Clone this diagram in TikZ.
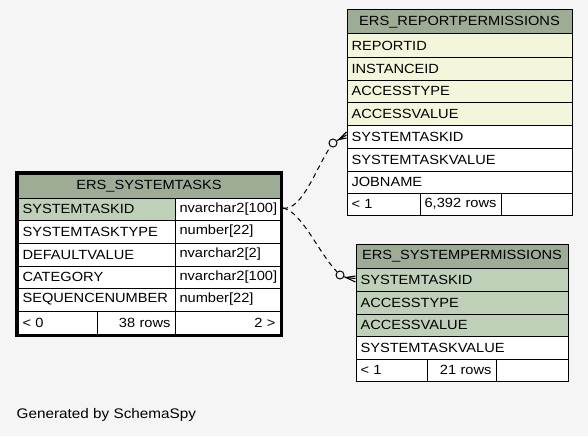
\documentclass[tikz,border=0pt]{standalone}
\usepackage{fontspec}
\setmainfont[FakeStretch=1.1]{Liberation Sans}
\definecolor{bgc}{HTML}{F5F5F5}
\definecolor{headc}{HTML}{9EAC96}
\definecolor{pkc}{HTML}{BFD0B8}
\definecolor{idxc}{HTML}{F4F6DC}
\tikzset{
  cellbox/.style={draw=black, line width=1pt, inner xsep=4.5pt, inner ysep=0pt,
    font=\fontsize{13.3}{15}\selectfont, anchor=center},
  fk/.style={draw=black, line width=1pt, dash pattern=on 5pt off 4pt},
  crow/.style={draw=black, line width=1.1pt},
  odot/.style={circle, draw=black, line width=1pt, fill=bgc, minimum size=8pt, inner sep=0pt},
  focus/.style={draw=black, line width=3pt}
}
\newcommand{\tcell}[8]{%
  \pgfmathsetmacro{\cellw}{#4-#2}%
  \pgfmathsetmacro{\cellh}{#5-#3}%
  \pgfmathsetmacro{\celltw}{#4-#2-9}%
  \node[cellbox, fill=#6, minimum width=\cellw pt, minimum height=\cellh pt,
        text width=\celltw pt, align=#7] (#1) at ({(#2+#4)/2},{(#3+#5)/2}) {#8};}
\begin{document}
\begin{tikzpicture}[x=1pt,y=-1pt]
\fill[bgc] (0,0) rectangle (588,436);
\useasboundingbox (0,0) rectangle (588,436);

% ERS_SYSTEMTASKS
\tcell{st-h}{18}{174}{280}{198}{headc}{center}{ERS\_SYSTEMTASKS}
\tcell{st-n1}{18}{198}{175}{220}{pkc}{left}{SYSTEMTASKID}
\tcell{st-t1}{175}{198}{280}{220}{white}{left}{nvarchar2[100]}
\tcell{st-n2}{18}{220}{175}{243}{white}{left}{SYSTEMTASKTYPE}
\tcell{st-t2}{175}{220}{280}{243}{white}{left}{number[22]}
\tcell{st-n3}{18}{243}{175}{266}{white}{left}{DEFAULTVALUE}
\tcell{st-t3}{175}{243}{280}{266}{white}{left}{nvarchar2[2]}
\tcell{st-n4}{18}{266}{175}{288}{white}{left}{CATEGORY}
\tcell{st-t4}{175}{266}{280}{288}{white}{left}{nvarchar2[100]}
\tcell{st-n5}{18}{288}{175}{311}{white}{left}{SEQUENCENUMBER}
\tcell{st-t5}{175}{288}{280}{311}{white}{left}{number[22]}
\tcell{st-f1}{18}{311}{97}{334}{white}{left}{< 0}
\tcell{st-f2}{97}{311}{175}{334}{white}{right}{38 rows}
\tcell{st-f3}{175}{311}{280}{334}{white}{right}{2 >}
\draw[focus] (16.5,172.5) rectangle (281.5,335.5);

% ERS_REPORTPERMISSIONS
\tcell{rp-h}{347}{10}{572}{34}{headc}{center}{ERS\_REPORTPERMISSIONS}
\tcell{rp-1}{347}{34}{572}{57}{idxc}{left}{REPORTID}
\tcell{rp-2}{347}{57}{572}{80}{idxc}{left}{INSTANCEID}
\tcell{rp-3}{347}{80}{572}{102}{idxc}{left}{ACCESSTYPE}
\tcell{rp-4}{347}{102}{572}{125}{idxc}{left}{ACCESSVALUE}
\tcell{rp-5}{347}{125}{572}{148}{white}{left}{SYSTEMTASKID}
\tcell{rp-6}{347}{148}{572}{171}{white}{left}{SYSTEMTASKVALUE}
\tcell{rp-7}{347}{171}{572}{193}{white}{left}{JOBNAME}
\tcell{rp-f1}{347}{193}{420}{215}{white}{left}{< 1}
\tcell{rp-f2}{420}{193}{501}{215}{white}{right}{6,392 rows}
\tcell{rp-f3}{501}{193}{572}{215}{white}{left}{}

% ERS_SYSTEMPERMISSIONS
\tcell{sp-h}{356}{244}{568}{268}{headc}{center}{ERS\_SYSTEMPERMISSIONS}
\tcell{sp-1}{356}{268}{568}{291}{pkc}{left}{SYSTEMTASKID}
\tcell{sp-2}{356}{291}{568}{314}{pkc}{left}{ACCESSTYPE}
\tcell{sp-3}{356}{314}{568}{336}{pkc}{left}{ACCESSVALUE}
\tcell{sp-4}{356}{336}{568}{359}{white}{left}{SYSTEMTASKVALUE}
\tcell{sp-f1}{356}{359}{427}{381}{white}{left}{< 1}
\tcell{sp-f2}{427}{359}{496}{381}{white}{right}{21 rows}
\tcell{sp-f3}{496}{359}{568}{381}{white}{left}{}

% connectors
\coordinate (src) at (283,208);
\node[odot] (c1) at (333,143) {};
\node[odot] (c2) at (340,275) {};
\coordinate (k1) at (339,139.5);
\coordinate (k2) at (346,277.5);
\draw[fk] (src) .. controls (302,211) and (316,168) .. (c1);
\draw[fk] (src) .. controls (302,212) and (318,252) .. (c2);
\draw[crow] (c1) -- (k1);
\draw[crow] (k1) -- ([yshift=4.5pt]rp-5.west);
\draw[crow] (k1) -- ([yshift=1.5pt]rp-5.west);
\draw[crow] (k1) -- ([yshift=-1.5pt]rp-5.west);
\draw[crow] (c2) -- (k2);
\draw[crow] (k2) -- ([yshift=3.5pt]sp-1.west);
\draw[crow] (k2) -- ([yshift=1pt]sp-1.west);
\draw[crow] (k2) -- ([yshift=-2.5pt]sp-1.west);

\node[anchor=west, inner sep=0pt, font=\fontsize{13.9}{15}\selectfont] (gen) at (16.5,415) {Generated by SchemaSpy};
\end{tikzpicture}
\end{document}
